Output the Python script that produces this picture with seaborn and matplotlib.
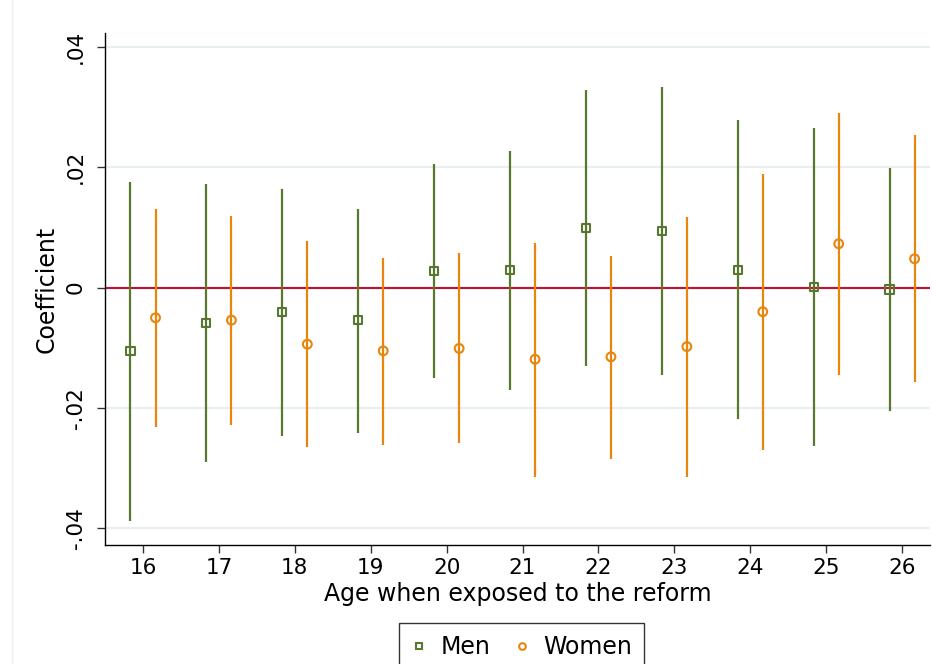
import numpy as np
import pandas as pd
import matplotlib
matplotlib.use("Agg")
import matplotlib.pyplot as plt
from matplotlib.lines import Line2D
import seaborn as sns

ages = [16, 17, 18, 19, 20, 21, 22, 23, 24, 25, 26]
men_coef = [-0.0106, -0.0058, -0.0041, -0.0054, 0.0028, 0.0029, 0.0099, 0.0094, 0.0029, 0.0001, -0.0003]
men_lo = [-0.0388, -0.0290, -0.0246, -0.0241, -0.0150, -0.0170, -0.0131, -0.0146, -0.0219, -0.0264, -0.0205]
men_hi = [0.0175, 0.0173, 0.0164, 0.0131, 0.0205, 0.0228, 0.0328, 0.0333, 0.0278, 0.0265, 0.0199]
women_coef = [-0.0050, -0.0054, -0.0094, -0.0105, -0.0101, -0.0119, -0.0115, -0.0098, -0.0040, 0.0073, 0.0048]
women_lo = [-0.0232, -0.0228, -0.0265, -0.0262, -0.0259, -0.0315, -0.0285, -0.0314, -0.0270, -0.0145, -0.0157]
women_hi = [0.0131, 0.0119, 0.0078, 0.0050, 0.0057, 0.0075, 0.0053, 0.0118, 0.0189, 0.0291, 0.0253]
yticks = [-0.04, -0.02, 0.0, 0.02, 0.04]
ytick_labels = ["-.04", "-.02", "0", ".02", ".04"]

GREEN = "#58782f"
ORANGE = "#e8850c"
RED = "#c8102e"
GRID = "#e8eef1"
OFF = 0.165

sns.set_theme(style="white")
plt.rcParams["font.family"] = ["DejaVu Sans"]
plt.rcParams["text.color"] = "black"
plt.rcParams["axes.labelcolor"] = "black"
plt.rcParams["xtick.color"] = "black"
plt.rcParams["ytick.color"] = "black"

df = pd.DataFrame({
    "age": ages * 2,
    "coef": men_coef + women_coef,
    "lo": men_lo + women_lo,
    "hi": men_hi + women_hi,
    "sex": ["Men"] * len(ages) + ["Women"] * len(ages),
})
df["x"] = np.where(df["sex"] == "Men", df["age"] - OFF, df["age"] + OFF)

fig = plt.figure(figsize=(9.32, 6.64), dpi=100)
ax = fig.add_axes([0.1127, 0.179, 0.998 - 0.1127, 0.950 - 0.179])

for yv in yticks:
    ax.axhline(yv, color=GRID, lw=1.6, zorder=0)
ax.axhline(0, color=RED, lw=1.5, zorder=1)

m = df[df["sex"] == "Men"]
w = df[df["sex"] == "Women"]
ax.vlines(m["x"], m["lo"], m["hi"], color=GREEN, lw=1.6, zorder=2)
ax.vlines(w["x"], w["lo"], w["hi"], color=ORANGE, lw=1.6, zorder=2)

sns.scatterplot(x=m["x"], y=m["coef"], marker="s", s=34, color="none",
                edgecolor=GREEN, linewidth=1.5, ax=ax, zorder=3, legend=False)
sns.scatterplot(x=w["x"], y=w["coef"], marker="o", s=40, color="none",
                edgecolor=ORANGE, linewidth=1.5, ax=ax, zorder=3, legend=False)

ax.set_xlim(15.5, 26.37)
ax.set_ylim(-0.0428, 0.0423)
ax.set_xticks(ages)
ax.set_xticklabels([str(a) for a in ages], fontsize=15.5)
ax.set_yticks(yticks)
ax.set_yticklabels(ytick_labels, fontsize=15.5, rotation=90, va="center")
ax.tick_params(axis="both", which="major", bottom=True, left=True, direction="out",
               length=6, width=1, color="#333333")
ax.tick_params(axis="x", pad=3)
ax.tick_params(axis="y", pad=8)
ax.set_xlabel("Age when exposed to the reform", fontsize=17, labelpad=3)
ax.set_ylabel("Coefficient", fontsize=17, labelpad=5)

for side in ["top", "right"]:
    ax.spines[side].set_visible(False)
for side in ["left", "bottom"]:
    ax.spines[side].set_color("black")
    ax.spines[side].set_linewidth(1.0)

fig.add_artist(Line2D([12 / 932, 12 / 932], [0, 1], color="#eceff1", lw=1.0))

handles = [
    Line2D([], [], ls="none", marker="s", ms=4.8, mfc="none", mec=GREEN, mew=1.5, label="Men"),
    Line2D([], [], ls="none", marker="o", ms=4.8, mfc="none", mec=ORANGE, mew=1.5, label="Women"),
]
leg = fig.legend(handles=handles, loc="upper center", bbox_to_anchor=(0.5596, 1 - 623 / 664), ncol=2,
                 frameon=True, fancybox=False, fontsize=17, handlelength=0.7,
                 handletextpad=0.55, columnspacing=1.0, borderpad=0.5, borderaxespad=0)
leg.get_frame().set_edgecolor("black")
leg.get_frame().set_linewidth(1.0)

fig.savefig("out.png", dpi=100, facecolor="white")
